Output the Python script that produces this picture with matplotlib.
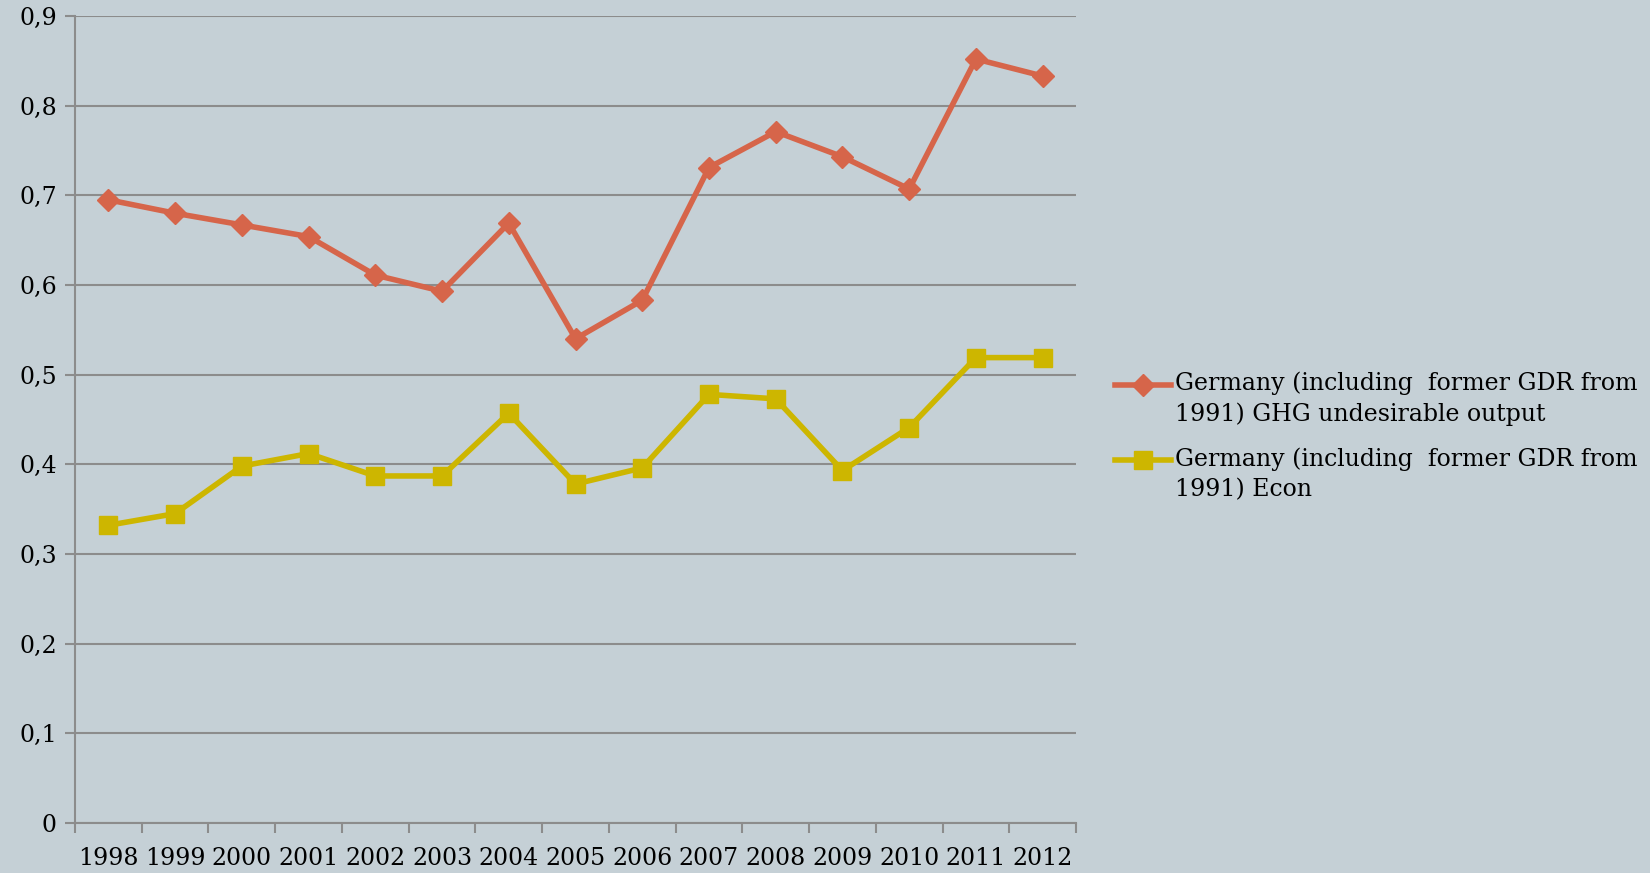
import matplotlib
matplotlib.use("Agg")
import matplotlib.pyplot as plt
import numpy as np
from matplotlib.legend_handler import HandlerLine2D

# yearly scores for Germany
years = ["1998", "1999", "2000", "2001", "2002", "2003", "2004", "2005",
         "2006", "2007", "2008", "2009", "2010", "2011", "2012"]
ghg_values = [0.695, 0.680, 0.667, 0.654, 0.611, 0.593, 0.669, 0.540,
              0.583, 0.731, 0.771, 0.743, 0.707, 0.852, 0.833]
econ_values = [0.332, 0.345, 0.398, 0.412, 0.387, 0.387, 0.457, 0.378,
               0.396, 0.478, 0.473, 0.393, 0.441, 0.519, 0.519]
ghg_label = "Germany (including  former GDR from\n1991) GHG undesirable output"
econ_label = "Germany (including  former GDR from\n1991) Econ"

BG = "#C5D0D6"
GRID = "#8C8C8C"
RED = "#D6654A"
YELLOW = "#CDB600"


# legend key that sits level with the first line of a two-line label
class FirstLineHandler(HandlerLine2D):
    def create_artists(self, legend, orig_handle, xdescent, ydescent,
                       width, height, fontsize, trans):
        artists = super().create_artists(legend, orig_handle, xdescent, ydescent,
                                         width, height, fontsize, trans)
        for a in artists:
            a.set_ydata(np.asarray(a.get_ydata()) + 0.64 * fontsize)
        return artists


plt.rcParams["font.family"] = ["DejaVu Serif"]

fig = plt.figure(figsize=(16.5, 8.73), dpi=100, facecolor=BG)
ax = fig.add_axes([0.04545, 0.0573, 0.6067, 0.9244], facecolor=BG)

x = list(range(len(years)))
ax.plot(x, ghg_values, color=RED, linewidth=4, marker="D", markersize=11,
        label=ghg_label)
ax.plot(x, econ_values, color=YELLOW, linewidth=4, marker="s", markersize=13,
        label=econ_label)

ax.set_xlim(-0.5, len(years) - 0.5)
ax.set_ylim(0, 0.9)
ax.set_yticks([i / 10 for i in range(10)])
ax.set_yticklabels(["0"] + ["0,%d" % i for i in range(1, 10)])
ax.yaxis.grid(True, color=GRID, linewidth=1.5)
ax.set_axisbelow(True)

# year labels centred in each slot, ticks on the slot boundaries
ax.set_xticks(x)
ax.set_xticklabels(years)
ax.set_xticks([i - 0.5 for i in range(len(years) + 1)], minor=True)
ax.tick_params(axis="x", which="major", length=0, pad=17, labelsize=17)
ax.tick_params(axis="x", which="minor", length=7, width=1.5, color=GRID)
ax.tick_params(axis="y", length=7, width=1.5, color=GRID, pad=6, labelsize=17)

for side in ["top", "right"]:
    ax.spines[side].set_visible(False)
for side in ["left", "bottom"]:
    ax.spines[side].set_color(GRID)
    ax.spines[side].set_linewidth(1.5)

handler = FirstLineHandler()
leg = fig.legend(loc="upper left", bbox_to_anchor=(0.6758, 0.5744), frameon=False,
                 fontsize=17, handlelength=2.35, handletextpad=0.17,
                 labelspacing=0.885, borderpad=0, borderaxespad=0,
                 handler_map={l: handler for l in ax.get_lines()})
for t in leg.get_texts():
    t.set_linespacing(1.42)

fig.savefig("out.png", dpi=100, facecolor=BG)
